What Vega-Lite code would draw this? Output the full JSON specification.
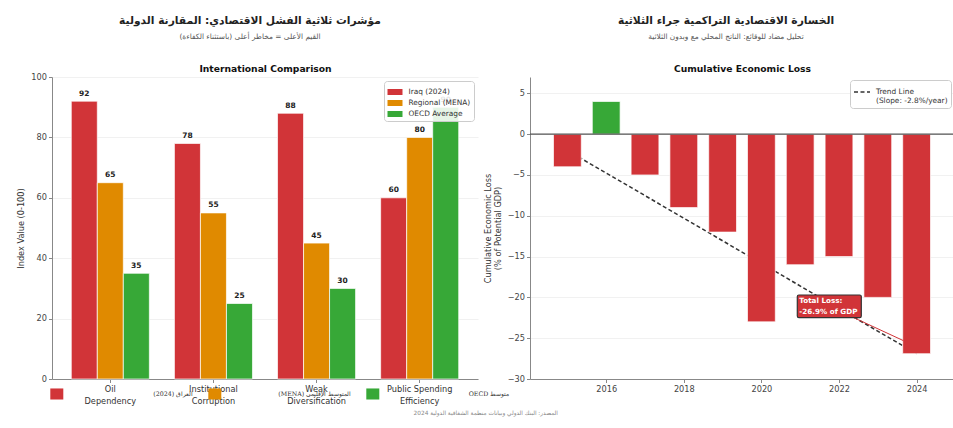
{
  "$schema": "https://vega.github.io/schema/vega-lite/v6.json",
  "background": "white",
  "padding": {"left": 16, "top": 14, "right": 0, "bottom": 4},
  "bounds": "flush",
  "spacing": 52,
  "resolve": {"scale": {"color": "independent", "fill": "independent"}, "legend": {"color": "independent", "fill": "independent"}},
  "title": {"text": "‏المصدر: البنك الدولي وبيانات منظمة الشفافية الدولية 2024‏", "orient": "bottom", "anchor": "middle", "font": "DejaVu Sans", "fontSize": 5.8, "fontWeight": "normal", "color": "#888888", "offset": 6},
  "datasets": {
    "comparison": [
      {"indicator": "Oil Dependency", "series": "Iraq (2024)", "series_ar": "(2024) العراق", "value": 92},
      {"indicator": "Oil Dependency", "series": "Regional (MENA)", "series_ar": "(MENA) المتوسط الإقليمي", "value": 65},
      {"indicator": "Oil Dependency", "series": "OECD Average", "series_ar": "OECD متوسط", "value": 35},
      {"indicator": "Institutional Corruption", "series": "Iraq (2024)", "series_ar": "(2024) العراق", "value": 78},
      {"indicator": "Institutional Corruption", "series": "Regional (MENA)", "series_ar": "(MENA) المتوسط الإقليمي", "value": 55},
      {"indicator": "Institutional Corruption", "series": "OECD Average", "series_ar": "OECD متوسط", "value": 25},
      {"indicator": "Weak Diversification", "series": "Iraq (2024)", "series_ar": "(2024) العراق", "value": 88},
      {"indicator": "Weak Diversification", "series": "Regional (MENA)", "series_ar": "(MENA) المتوسط الإقليمي", "value": 45},
      {"indicator": "Weak Diversification", "series": "OECD Average", "series_ar": "OECD متوسط", "value": 30},
      {"indicator": "Public Spending Efficiency", "series": "Iraq (2024)", "series_ar": "(2024) العراق", "value": 60},
      {"indicator": "Public Spending Efficiency", "series": "Regional (MENA)", "series_ar": "(MENA) المتوسط الإقليمي", "value": 80},
      {"indicator": "Public Spending Efficiency", "series": "OECD Average", "series_ar": "OECD متوسط", "value": 90}
    ],
    "loss": [
      {"year": 2015, "value": -4},
      {"year": 2016, "value": 4},
      {"year": 2017, "value": -5},
      {"year": 2018, "value": -9},
      {"year": 2019, "value": -12},
      {"year": 2020, "value": -23},
      {"year": 2021, "value": -16},
      {"year": 2022, "value": -15},
      {"year": 2023, "value": -20},
      {"year": 2024, "value": -26.9}
    ],
    "trend": [
      {"year": 2015, "trend": -2.0, "series": "Trend Line"},
      {"year": 2024, "trend": -26.9, "series": "Trend Line"}
    ],
    "annotation": [
      {"x": 2021.75, "y": -21.1, "x2": 2023.66, "y2": -25.3, "label": ["Total Loss:", "-26.9% of GDP"]}
    ]
  },
  "hconcat": [
    {
      "width": 426,
      "height": 302,
      "title": {"text": "‏مؤشرات ثلاثية الفشل الاقتصادي: المقارنة الدولية‏", "subtitle": "‏القيم الأعلى = مخاطر أعلى (باستثناء الكفاءة)‏", "anchor": "middle", "frame": "group", "dx": -15, "font": "DejaVu Sans", "fontSize": 10.7, "fontWeight": "bold", "color": "#222222", "subtitleFont": "DejaVu Sans", "subtitleFontSize": 7.4, "subtitleColor": "#555555", "subtitlePadding": 6, "offset": 23},
      "data": {"name": "comparison"},
      "layer": [
        {
          "mark": {"type": "bar", "stroke": "white", "strokeWidth": 0.7},
          "encoding": {
            "x": {"field": "indicator", "type": "nominal", "sort": null, "scale": {"paddingInner": 0.243, "paddingOuter": 0.187},
                  "axis": {"orient": "bottom", "title": null, "labelAngle": 0, "labelColor": "#333333", "labelLineHeight": 11.5, "labelPadding": 3, "labelExpr": "datum.label == 'Public Spending Efficiency' ? ['Public Spending', 'Efficiency'] : split(datum.label, ' ')"}},
            "xOffset": {"field": "series", "type": "nominal", "sort": null, "scale": {"domain": ["Iraq (2024)", "Regional (MENA)", "OECD Average"]}},
            "y": {"field": "value", "type": "quantitative", "scale": {"domain": [0, 100], "nice": false},
                  "axis": {"title": "Index Value (0-100)", "values": [0, 20, 40, 60, 80, 100], "grid": true}},
            "color": {"field": "series", "type": "nominal",
                      "scale": {"domain": ["Iraq (2024)", "Regional (MENA)", "OECD Average"], "range": ["#d13438", "#e08a00", "#37a837"]},
                      "legend": {"title": null, "orient": "top-right", "offset": 4, "padding": 3.5, "fillColor": "rgba(255,255,255,0.88)", "strokeColor": "#cccccc", "cornerRadius": 3, "symbolType": "M-1,-0.4H1V0.4H-1Z", "symbolSize": 225, "symbolStrokeWidth": 0, "labelFontSize": 7.4, "labelColor": "#333333", "labelOffset": 6, "rowPadding": 0}}
          }
        },
        {
          "mark": {"type": "text", "fontWeight": "bold", "fontSize": 7.5, "dy": -5.5, "baseline": "alphabetic", "color": "#222222"},
          "encoding": {
            "x": {"field": "indicator", "type": "nominal", "sort": null,
                  "axis": {"orient": "top", "title": "International Comparison", "labels": false, "ticks": false, "domain": false, "grid": false, "titleFontWeight": "bold", "titleFontSize": 9.2, "titleColor": "#111111", "titlePadding": 4}},
            "xOffset": {"field": "series", "type": "nominal", "sort": null, "scale": {"domain": ["Iraq (2024)", "Regional (MENA)", "OECD Average"]}},
            "y": {"field": "value", "type": "quantitative"},
            "text": {"field": "value", "type": "quantitative"}
          }
        },
        {
          "mark": {"type": "point", "filled": true, "opacity": 0},
          "encoding": {
            "x": {"field": "indicator", "type": "nominal", "sort": null, "axis": null},
            "xOffset": {"field": "series", "type": "nominal", "sort": null, "scale": {"domain": ["Iraq (2024)", "Regional (MENA)", "OECD Average"]}},
            "y": {"field": "value", "type": "quantitative"},
            "fill": {"field": "series_ar", "type": "nominal",
                     "scale": {"domain": ["(2024) العراق", "(MENA) المتوسط الإقليمي", "OECD متوسط"], "range": ["#d13438", "#e08a00", "#37a837"]},
                     "legend": {"title": null, "orient": "none", "legendX": -1.7, "legendY": 310, "direction": "horizontal", "padding": 0, "symbolType": "M-1,-0.85H1V0.85H-1Z", "symbolSize": 169, "symbolOpacity": 1, "symbolStrokeWidth": 0, "labelAlign": "right", "labelOffset": 130, "labelFont": "DejaVu Serif", "labelFontSize": 6.3, "labelColor": "#333333", "columnPadding": 15, "labelLimit": 300}}
          }
        }
      ]
    },
    {
      "width": 424,
      "height": 302,
      "title": {"text": "‏الخسارة الاقتصادية التراكمية جراء الثلاثية‏", "subtitle": "‏تحليل مضاد للوقائع: الناتج المحلي مع وبدون الثلاثية‏", "anchor": "middle", "frame": "group", "dx": -16, "font": "DejaVu Sans", "fontSize": 10.7, "fontWeight": "bold", "color": "#222222", "subtitleFont": "DejaVu Sans", "subtitleFontSize": 7.4, "subtitleColor": "#555555", "subtitlePadding": 6, "offset": 23},
      "layer": [
        {
          "data": {"name": "trend"},
          "mark": {"type": "line", "strokeDash": [4, 2.5], "strokeWidth": 1.5},
          "encoding": {
            "x": {"field": "year", "type": "quantitative", "scale": {"domain": [2014.165, 2024.835], "nice": false, "zero": false},
                  "axis": {"orient": "top", "title": "Cumulative Economic Loss", "labels": false, "ticks": false, "domain": false, "grid": false, "titleFontWeight": "bold", "titleFontSize": 9.2, "titleColor": "#111111", "titlePadding": 4}},
            "y": {"field": "trend", "type": "quantitative"},
            "color": {"field": "series", "type": "nominal", "scale": {"range": ["#333333"]},
                      "legend": {"title": null, "orient": "top-right", "offset": 3, "padding": 3, "fillColor": "rgba(255,255,255,0.88)", "strokeColor": "#cccccc", "cornerRadius": 3, "symbolType": "stroke", "symbolSize": 256, "symbolStrokeWidth": 1.5, "symbolDash": [4, 2.5], "labelFontSize": 7.4, "labelColor": "#333333", "labelOffset": 5, "labelLineHeight": 9.4, "labelExpr": "['Trend Line', '(Slope: -2.8%/year)']"}}
          }
        },
        {
          "data": {"name": "loss"},
          "mark": {"type": "bar", "size": 27.8, "stroke": "white", "strokeWidth": 0.7},
          "encoding": {
            "x": {"field": "year", "type": "quantitative", "scale": {"domain": [2014.165, 2024.835], "nice": false, "zero": false},
                  "axis": {"orient": "bottom", "title": null, "values": [2016, 2018, 2020, 2022, 2024], "format": "d", "grid": false, "labelPadding": 3}},
            "y": {"field": "value", "type": "quantitative", "scale": {"domain": [-30, 7], "nice": false},
                  "axis": {"title": ["Cumulative Economic Loss", "(% of Potential GDP)"], "titleLineHeight": 10, "values": [-30, -25, -20, -15, -10, -5, 0, 5], "grid": true}},
            "color": {"condition": {"test": "datum.value > 0", "value": "#37a837"}, "value": "#d13438"}
          }
        },
        {
          "data": {"values": [{"zero": 0}]},
          "mark": {"type": "rule", "color": "#555555", "strokeWidth": 1.2},
          "encoding": {"y": {"field": "zero", "type": "quantitative"}}
        },
        {
          "data": {"name": "annotation"},
          "mark": {"type": "rule", "color": "#d13438", "strokeWidth": 1},
          "encoding": {
            "x": {"field": "x", "type": "quantitative", "axis": null},
            "y": {"field": "y", "type": "quantitative"},
            "x2": {"field": "x2"},
            "y2": {"field": "y2"}
          }
        },
        {
          "data": {"name": "annotation"},
          "mark": {"type": "point", "filled": true, "opacity": 1, "shape": "M-0.95,-0.355L0.95,-0.355Q1,-0.355 1,-0.305L1,0.305Q1,0.355 0.95,0.355L-0.95,0.355Q-1,0.355 -1,0.305L-1,-0.305Q-1,-0.355 -0.95,-0.355Z", "size": 4096, "fill": "#d13438", "stroke": "#333333", "strokeWidth": 1.2},
          "encoding": {
            "x": {"field": "x", "type": "quantitative", "axis": null},
            "y": {"field": "y", "type": "quantitative"}
          }
        },
        {
          "data": {"name": "annotation"},
          "mark": {"type": "text", "align": "left", "baseline": "middle", "dx": -30, "dy": -5.2, "fontWeight": "bold", "fontSize": 7.2, "color": "white", "lineHeight": 10.5},
          "encoding": {
            "x": {"field": "x", "type": "quantitative", "axis": null},
            "y": {"field": "y", "type": "quantitative"},
            "text": {"field": "label", "type": "nominal"}
          }
        }
      ]
    }
  ],
  "config": {
    "font": "DejaVu Sans",
    "view": {"stroke": null},
    "axis": {"labelFont": "DejaVu Sans", "labelFontSize": 8.2, "labelColor": "#444444", "titleFont": "DejaVu Sans", "titleFontSize": 8.2, "titleColor": "#333333", "titleFontWeight": "normal", "domainColor": "#888888", "tickColor": "#888888", "tickSize": 3.5, "labelPadding": 2, "titlePadding": 5, "gridColor": "#eeeeee", "gridWidth": 0.8},
    "legend": {"labelFont": "DejaVu Sans"}
  }
}
